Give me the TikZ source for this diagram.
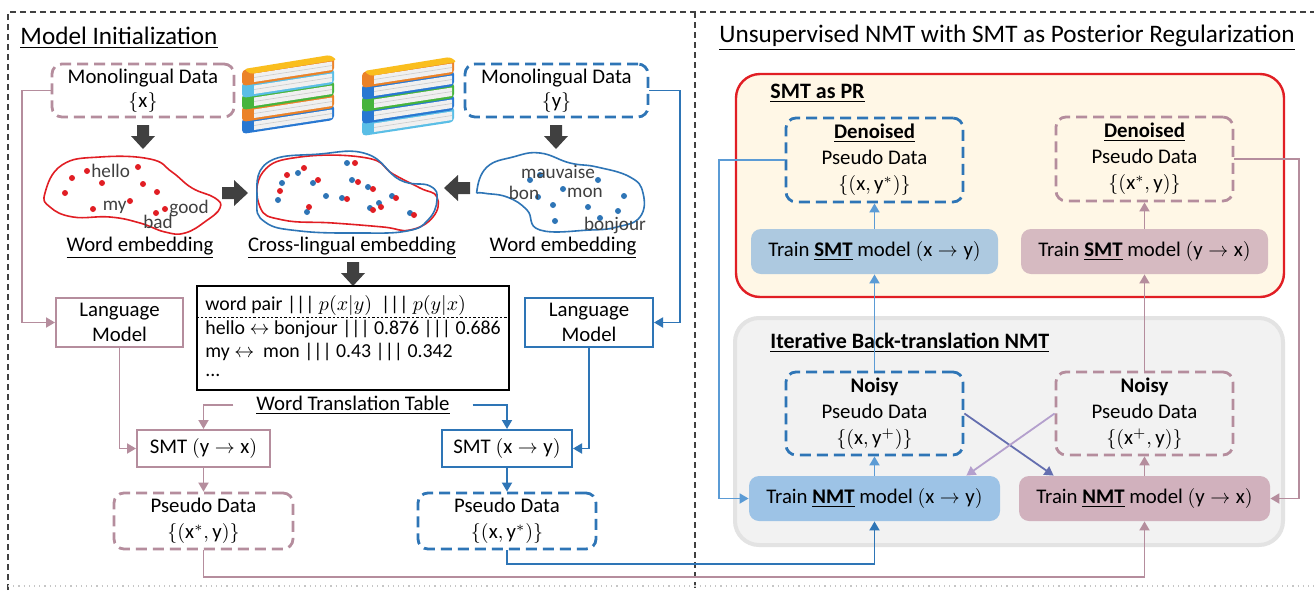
\documentclass[tikz,border=0pt]{standalone}
\usepackage{fontspec}
\setmainfont{Carlito}
\usetikzlibrary{arrows.meta,calc}

\definecolor{mauve}{RGB}{181,141,157}
\definecolor{dblue}{RGB}{46,117,182}
\definecolor{lblue}{RGB}{91,155,213}
\definecolor{redl}{RGB}{225,30,36}
\definecolor{agray}{RGB}{64,64,64}
\definecolor{cream}{RGB}{255,247,230}
\definecolor{smtblue}{RGB}{173,201,224}
\definecolor{smtmauve}{RGB}{214,186,193}
\definecolor{nmtblue}{RGB}{157,195,230}
\definecolor{nmtmauve}{RGB}{209,177,189}
\definecolor{panelgray}{RGB}{242,242,242}
\definecolor{xblue}{RGB}{100,110,175}
\definecolor{xpurple}{RGB}{180,160,205}
\definecolor{bkyellow}{RGB}{250,190,30}
\definecolor{bkorange}{RGB}{235,130,40}
\definecolor{bkblue}{RGB}{40,120,210}
\definecolor{bkcyan}{RGB}{90,190,230}
\definecolor{bkgreen}{RGB}{70,180,60}

% one slanted book of a stack: left-top corner x, y, cover colour
\newcommand\onebook[3]{%
  \fill[#3, rounded corners=2pt] (#1,#2) -- ++(92,-14) -- ++(0,16) -- ++(-92,14) -- cycle;
  \fill[white!94!black] (#1+12,#2+3.5) -- ++(78,-12) -- ++(0,8.5) -- ++(-78,12) -- cycle;
  \draw[gray!40, line width=0.3pt] (#1+12,#2+7.5) -- ++(78,-12);
}

\begin{document}
\begin{tikzpicture}[x=0.5pt,y=-0.5pt,
  font=\fontsize{10.4}{12.5}\selectfont,
  dbox/.style={rounded corners=5pt, line width=1.4pt, dash pattern=on 5.5pt off 3pt,
    align=center, inner sep=0pt},
  mdash/.style={dbox, draw=mauve},
  bdash/.style={dbox, draw=dblue},
  sbox/.style={draw, line width=1pt, align=center, inner sep=0pt},
  fbox/.style={rounded corners=5pt, align=center, inner sep=0pt},
  conn/.style={line width=0.9pt, -{Triangle[length=4.5pt,width=5pt]}},
  emb/.style={font=\fontsize{9.6}{11}\selectfont, text=agray, inner sep=0pt},
  trow/.style={anchor=west, inner sep=0pt, font=\fontsize{9.9}{12}\selectfont},
  downblk/.pic={\fill[agray] (-6,0) -- (6,0) -- (6,11) -- (12,11) -- (0,24) -- (-12,11) -- (-6,11) -- cycle;},
  rightblk/.pic={\fill[agray] (0,-6) -- (12,-6) -- (12,-13) -- (26,0) -- (12,13) -- (12,6) -- (0,6) -- cycle;},
]
\useasboundingbox (0,0) rectangle (1314,590);
\fill[white] (0,0) rectangle (1314,590);

% frame of the two panels
\draw[agray, line width=0.6pt, dash pattern=on 3pt off 2pt] (8,590) -- (8,12) -- (1314,12);
\draw[agray, line width=0.6pt, dash pattern=on 3pt off 2pt] (695,12) -- (695,590);
\draw[gray!45, line width=0.6pt, dotted] (8,586) -- (1314,586);

% ---------------- left panel ----------------
\node[font=\fontsize{12.6}{14}\selectfont] (title1) at (119,38) {\underline{Model Initialization}};

\node[mdash, minimum width=91pt, minimum height=26.5pt, font=\fontsize{10.4}{11.8}\selectfont]
  (monox) at (143,90.5) {Monolingual Data\\$\{\mathrm{x}\}$};
\node[bdash, minimum width=91.5pt, minimum height=26.5pt, font=\fontsize{10.4}{11.8}\selectfont]
  (monoy) at (556.5,90.5) {Monolingual Data\\$\{\mathrm{y}\}$};

% book stacks
\onebook{242}{118}{bkblue}
\onebook{242}{106}{bkorange}
\onebook{242}{94}{bkgreen}
\onebook{242}{82}{bkcyan}
\onebook{242}{70}{bkorange}
\fill[bkyellow, rounded corners=1.5pt] (244,69) -- (330,55) -- (337,60) -- (250,74) -- cycle;

\onebook{362}{120}{bkcyan}
\onebook{362}{108}{bkblue}
\onebook{362}{96}{bkgreen}
\onebook{362}{84}{bkblue}
\onebook{362}{72}{bkorange}
\fill[bkyellow, rounded corners=1.5pt] (364,71) -- (450,57) -- (457,62) -- (370,76) -- cycle;

% block arrows
\pic at (143,125) {downblk};
\pic at (556,125) {downblk};
\pic at (222,193) {rightblk};
\pic[rotate=180] at (470,188) {rightblk};
\pic at (353,262) {downblk};

% source word embedding
\draw[redl, line width=0.8pt] plot[smooth cycle, tension=0.75] coordinates
  {(45,193) (62,165) (100,157) (150,159) (172,172) (192,188) (215,198) (220,208) (206,221) (185,233) (165,232) (140,223) (110,217) (73,217) (50,207)};
\foreach \p in {(87,171),(138,167),(72,178),(102,183),(143,184),(65,193),(157,192),(93,209),(130,201),(156,213),(165,209)}
  \fill[redl] \p circle (1.5pt);
\node[emb, anchor=west] (whello) at (91,171) {hello};
\node[emb, anchor=east] (wmy) at (127,207) {my};
\node[emb, anchor=west] (wgood) at (169,208) {good};
\node[emb] (wbad) at (158,222) {bad};
\node (we1) at (140,248) {\underline{Word embedding}};

% shared cross-lingual embedding
\draw[redl, line width=0.8pt] plot[smooth cycle, tension=0.75] coordinates
  {(260,207) (263,172) (300,157) (367,158) (393,174) (420,188) (437,197) (433,217) (410,230) (383,227) (333,223) (283,220)};
\draw[dblue, line width=0.8pt] plot[smooth cycle, tension=0.75] coordinates
  {(257,200) (267,163) (320,154) (367,154) (400,180) (430,186) (437,200) (428,220) (407,231) (360,233) (300,231) (265,222)};
\foreach \p in {(298,173),(282,183),(313,183),(278,200),(307,212),(347,163),(352,180),(368,187),(342,198),(379,203),(370,208),(392,196),(410,213),(326,196)}
  \fill[dblue] \p circle (1.5pt);
\foreach \p in {(304,168),(287,175),(318,180),(280,191),(309,207),(355,163),(358,182),(373,189),(347,199),(381,207),(373,210),(396,198),(414,215)}
  \fill[redl] \p circle (1.5pt);
\node (we2) at (352,248) {\underline{Cross-lingual embedding}};

% target word embedding
\draw[dblue, line width=0.8pt] plot[smooth cycle, tension=0.75] coordinates
  {(477,190) (487,167) (513,157) (540,153) (570,163) (597,167) (630,177) (643,193) (640,217) (617,227) (590,230) (540,230) (527,210) (507,197) (483,193)};
\foreach \p in {(530,180),(540,175),(598,180),(563,189),(538,197),(624,196),(553,205),(588,207),(618,211),(555,221),(600,218)}
  \fill[dblue] \p circle (1.5pt);
\node[emb] (wmauv) at (558,172) {mauvaise};
\node[emb] (wbon) at (524,193) {bon};
\node[emb] (wmon) at (585,193) {mon};
\node[emb] (wbonj) at (615,225) {bonjour};
\node (we3) at (563,248) {\underline{Word embedding}};

% language models
\node[sbox, draw=mauve, minimum width=63.5pt, minimum height=24.5pt] (lmx) at (119.5,322.5) {Language\\Model};
\node[sbox, draw=dblue, minimum width=64pt, minimum height=24.5pt] (lmy) at (589,322.5) {Language\\Model};

% word translation table
\node[draw=black, line width=0.8pt, minimum width=156pt, minimum height=52pt, inner sep=0pt] (tbl) at (353,338) {};
\node[trow] (trow1) at (205,305) {word pair ||| $p(x|y)$~~||| $p(y|x)$};
\node[trow] (trow2) at (205,329) {hello $\leftrightarrow$ bonjour ||| 0.876 ||| 0.686};
\node[trow] (trow3) at (205,352) {my $\leftrightarrow$~ mon ||| 0.43 ||| 0.342};
\node[trow] (trow4) at (205,375) {...};
\draw[black, line width=0.4pt, dash pattern=on 1.2pt off 1pt] (tbl.west |- 0,317) -- (tbl.east |- 0,317);
\node (wtt) at (353,405) {\underline{Word Translation Table}};

% SMT systems and their pseudo data
\node[sbox, draw=mauve, minimum width=66.5pt, minimum height=18.5pt] (smtyx) at (203.5,448.5) {SMT $(\mathrm{y}\rightarrow\mathrm{x})$};
\node[sbox, draw=dblue, minimum width=65pt, minimum height=18.5pt] (smtxy) at (507,448.5) {SMT $(\mathrm{x}\rightarrow\mathrm{y})$};
\node[mdash, minimum width=89.5pt, minimum height=28pt, font=\fontsize{10.4}{13}\selectfont]
  (pseudox) at (203.5,521) {Pseudo Data\\$\{(\mathrm{x}^{*},\mathrm{y})\}$};
\node[bdash, minimum width=89pt, minimum height=28pt, font=\fontsize{10.4}{13}\selectfont]
  (pseudoy) at (507,521) {Pseudo Data\\$\{(\mathrm{x},\mathrm{y}^{*})\}$};

% routing coordinates
\coordinate (lx) at (22,0);
\coordinate (rx) at (680,0);
\coordinate (ylowb) at (0,564);
\coordinate (ylowm) at (0,577);
\coordinate (rlx) at (719,0);
\coordinate (rrx) at (1299,0);

% left panel connectors
\draw[conn, mauve] (monox.west) -- (monox.west -| lx) |- (lmx.west);
\draw[conn, dblue] (monoy.east) -- (monoy.east -| rx) |- (lmy.east);
\draw[conn, mauve] (lmx.south) |- (smtyx.west);
\draw[conn, dblue] (lmy.south) |- (smtxy.east);
\draw[conn, mauve] ([xshift=-8pt]wtt.west) -| (smtyx.north);
\draw[conn, dblue] ([xshift=8pt]wtt.east) -| (smtxy.north);
\draw[conn, mauve] (smtyx.south) -- (pseudox.north);
\draw[conn, dblue] (smtxy.south) -- (pseudoy.north);

% ---------------- right panel ----------------
\node[font=\fontsize{12.6}{14}\selectfont] (title2) at (1007,38) {\underline{Unsupervised NMT with SMT as Posterior Regularization}};

\node[draw=redl, fill=cream, line width=1.2pt, rounded corners=12pt, minimum width=274pt, minimum height=111.5pt] (pr) at (1010,185.5) {};
\node[anchor=base west, inner sep=0pt, font=\fontsize{11}{13}\selectfont\bfseries] (prlab) at (770,98) {\underline{SMT as PR}};

\node[draw=gray!22, fill=panelgray, line width=2pt, rounded corners=12pt, minimum width=274pt, minimum height=113.5pt] (bt) at (1009,431.5) {};
\node[anchor=base west, inner sep=0pt, font=\fontsize{11}{13}\selectfont\bfseries] (btlab) at (770,348) {\underline{Iterative Back-translation NMT}};

\node[bdash, minimum width=88.5pt, minimum height=42pt, font=\fontsize{10.4}{13}\selectfont]
  (dnxy) at (874.5,160) {\underline{\textbf{Denoised}}\\Pseudo Data\\$\{(\mathrm{x},\mathrm{y}^{*})\}$};
\node[mdash, minimum width=88.5pt, minimum height=42pt, font=\fontsize{10.4}{13}\selectfont]
  (dnyx) at (1144.5,159) {\underline{\textbf{Denoised}}\\Pseudo Data\\$\{(\mathrm{x}^{*},\mathrm{y})\}$};

\node[fbox, fill=smtblue, minimum width=123.5pt, minimum height=22.5pt] (tsmtxy) at (874.5,251.5)
  {Train \underline{\textbf{SMT}} model $(\mathrm{x}\rightarrow\mathrm{y})$};
\node[fbox, fill=smtmauve, minimum width=123.5pt, minimum height=22.5pt] (tsmtyx) at (1144.5,251.5)
  {Train \underline{\textbf{SMT}} model $(\mathrm{y}\rightarrow\mathrm{x})$};

\node[bdash, fill=panelgray, minimum width=88.5pt, minimum height=41.5pt, font=\fontsize{10.4}{13}\selectfont]
  (noisyxy) at (874.5,413.5) {\textbf{Noisy}\\Pseudo Data\\$\{(\mathrm{x},\mathrm{y}^{+})\}$};
\node[mdash, fill=panelgray, minimum width=88.5pt, minimum height=41.5pt, font=\fontsize{10.4}{13}\selectfont]
  (noisyyx) at (1144.5,413.5) {\textbf{Noisy}\\Pseudo Data\\$\{(\mathrm{x}^{+},\mathrm{y})\}$};

\node[fbox, fill=nmtblue, minimum width=125.5pt, minimum height=22.5pt] (nmtxy) at (874.5,498.5)
  {Train \underline{\textbf{NMT}} model $(\mathrm{x}\rightarrow\mathrm{y})$};
\node[fbox, fill=nmtmauve, minimum width=125.5pt, minimum height=22.5pt] (nmtyx) at (1144.5,498.5)
  {Train \underline{\textbf{NMT}} model $(\mathrm{y}\rightarrow\mathrm{x})$};

% right panel connectors
\draw[conn, lblue] (tsmtxy.north) -- (dnxy.south);
\draw[conn, mauve] (tsmtyx.north) -- (dnyx.south);
\draw[conn, lblue] (noisyxy.north) -- (tsmtxy.south);
\draw[conn, mauve] (noisyyx.north) -- (tsmtyx.south);
\draw[conn, lblue] (nmtxy.north) -- (noisyxy.south);
\draw[conn, mauve] (nmtyx.north) -- (noisyyx.south);
\draw[conn, xblue] (noisyxy.east) -- ($(nmtyx.north west)+(35,0)$);
\draw[conn, xpurple] (noisyyx.west) -- ($(nmtxy.north east)+(-34,0)$);
\draw[conn, lblue] (dnxy.west) -- (dnxy.west -| rlx) |- (nmtxy.west);
\draw[conn, mauve] (dnyx.east) -- (dnyx.east -| rrx) |- (nmtyx.east);

% pseudo data from the initialization feeds the NMT models
\draw[conn, dblue] (pseudoy.south) -- (pseudoy.south |- ylowb) -| (nmtxy.south);
\draw[conn, mauve] (pseudox.south) -- (pseudox.south |- ylowm) -| (nmtyx.south);
\end{tikzpicture}
\end{document}
